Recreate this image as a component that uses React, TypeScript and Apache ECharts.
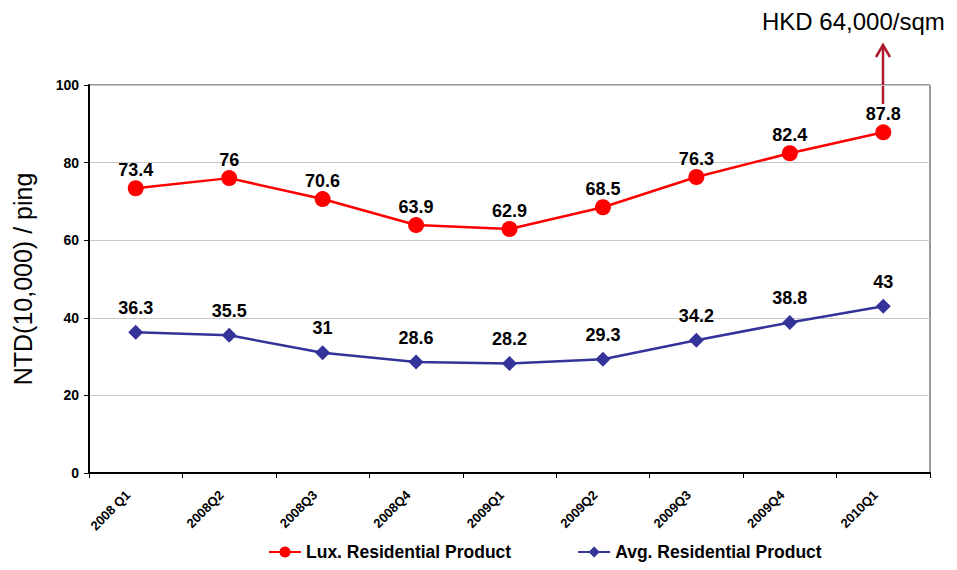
import React, { useEffect, useRef } from "react";
import * as echarts from "echarts";

const quarters = ["2008 Q1", "2008Q2", "2008Q3", "2008Q4", "2009Q1", "2009Q2", "2009Q3", "2009Q4", "2010Q1"];
const luxPrices = [73.4, 76, 70.6, 63.9, 62.9, 68.5, 76.3, 82.4, 87.8];
const avgPrices = [36.3, 35.5, 31, 28.6, 28.2, 29.3, 34.2, 38.8, 43];
const yTicks = { min: 0, max: 100, interval: 20 };

const FONT = "Liberation Sans, Arial, sans-serif";

export default function App() {
  const ref = useRef<HTMLDivElement>(null);

  useEffect(() => {
    if (!ref.current) return;
    const chart = echarts.init(ref.current, undefined, { renderer: "svg" });

    chart.setOption({
      animation: false,
      textStyle: { fontFamily: FONT },
      grid: {
        left: 89,
        top: 85,
        right: 957 - 930,
        bottom: 570 - 473,
        show: true,
        borderColor: "#333",
        borderWidth: 1,
      },
      legend: {
        bottom: 2,
        left: 263,
        itemGap: 66,
        itemWidth: 32,
        itemHeight: 14,
        textStyle: { fontSize: 17.5, fontWeight: "bold", color: "#000", fontFamily: FONT, lineHeight: 22 },
        data: ["Lux. Residential Product", "Avg. Residential Product"],
      },
      xAxis: {
        type: "category",
        data: quarters,
        boundaryGap: true,
        axisLine: { lineStyle: { color: "#000", width: 2 } },
        axisTick: { show: true, length: 5, lineStyle: { color: "#000" } },
        axisLabel: {
          rotate: 45,
          fontSize: 13,
          fontWeight: "bold",
          color: "#000",
          margin: 12,
          padding: [0, 11, 0, 0],
          fontFamily: FONT,
        },
        splitLine: { show: false },
      },
      yAxis: {
        type: "value",
        min: yTicks.min,
        max: yTicks.max,
        interval: yTicks.interval,
        name: "NTD(10,000) / ping",
        nameLocation: "middle",
        nameGap: 54,
        nameTextStyle: { fontSize: 25, color: "#000", fontFamily: FONT },
        axisLine: { show: true, lineStyle: { color: "#000", width: 2 } },
        axisTick: { show: true, length: 5, lineStyle: { color: "#000" } },
        axisLabel: { fontSize: 14, fontWeight: "bold", color: "#000", margin: 10, fontFamily: FONT },
        splitLine: { show: true, lineStyle: { color: "#c8c8c8", width: 1 } },
      },
      series: [
        {
          name: "Lux. Residential Product",
          type: "line",
          data: luxPrices,
          symbol: "circle",
          symbolSize: 16,
          itemStyle: { color: "#ff0000" },
          lineStyle: { color: "#ff0000", width: 2.5 },
          label: {
            show: true,
            position: "top",
            distance: 1,
            fontSize: 18,
            fontWeight: "bold",
            color: "#000",
            fontFamily: FONT,
          },
        },
        {
          name: "Avg. Residential Product",
          type: "line",
          data: avgPrices,
          symbol: "diamond",
          symbolSize: 15,
          itemStyle: { color: "#333399" },
          lineStyle: { color: "#333399", width: 2.5 },
          label: {
            show: true,
            position: "top",
            distance: 8,
            fontSize: 18,
            fontWeight: "bold",
            color: "#000",
            fontFamily: FONT,
          },
        },
      ],
      graphic: [
        {
          type: "line",
          shape: { x1: 883, y1: 104, x2: 883, y2: 46 },
          style: { stroke: "#b01830", lineWidth: 2.5 },
        },
        {
          type: "polyline",
          shape: { points: [[876, 57], [883, 45], [890, 57]] },
          style: { stroke: "#b01830", lineWidth: 2.5, fill: null },
        },
        {
          type: "text",
          x: 762,
          y: 9,
          style: {
            text: "HKD 64,000/sqm",
            fontSize: 24,
            fill: "#000",
            fontFamily: FONT,
          },
        },
      ],
    });

    return () => chart.dispose();
  }, []);

  return <div ref={ref} style={{ width: 957, height: 570, margin: "-8px 0 0 -8px" }} />;
}
